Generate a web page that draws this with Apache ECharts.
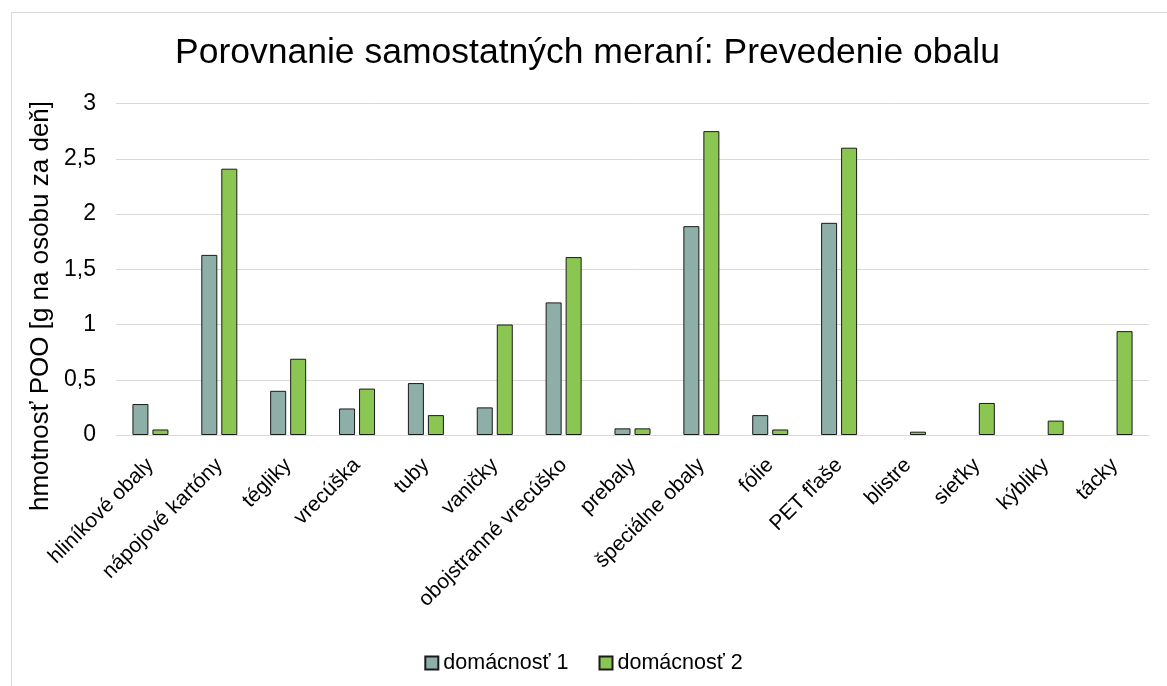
<!DOCTYPE html>
<html>
<head>
<meta charset="utf-8">
<script src="https://cdn.jsdelivr.net/npm/echarts@6/dist/echarts.min.js"></script>
<style>
html,body{margin:0;padding:0;background:#fff;}
#chart{width:1167px;height:686px;}
</style>
</head>
<body>
<div id="chart"></div>
<script>
const categories = ['hliníkové obaly','nápojové kartóny','tégliky','vrecúška','tuby','vaničky','obojstranné vrecúško','prebaly','špeciálne obaly','fólie','PET fľaše','blistre','sieťky','kýbliky','tácky'];
const household1 = [0.28, 1.63, 0.40, 0.24, 0.47, 0.25, 1.20, 0.06, 1.89, 0.18, 1.92, null, null, null, null];
const household2 = [0.05, 2.41, 0.69, 0.42, 0.18, 1.00, 1.61, 0.06, 2.75, 0.05, 2.60, 0.03, 0.29, 0.13, 0.94];
const seriesNames = ['domácnosť 1','domácnosť 2'];
const titleText = 'Porovnanie samostatných meraní: Prevedenie obalu';
const yAxisTitle = 'hmotnosť POO [g na osobu za deň]';

const FONT = '"Liberation Sans", Arial, sans-serif';
const chart = echarts.init(document.getElementById('chart'), null, {renderer:'canvas'});
chart.setOption({
  animation:false,
  backgroundColor:'#ffffff',
  textStyle:{fontFamily:FONT},
  title:{
    text:titleText,
    left:170,
    top:30,
    textStyle:{fontFamily:FONT,fontSize:35.5,fontWeight:'normal',color:'#000'}
  },
  graphic:[
    {type:'rect',left:9,top:10,shape:{width:1180,height:700},style:{fill:'none',stroke:'#d9d9d9',lineWidth:1},silent:true,z:-1},
    {type:'text',x:41,y:306,rotation:Math.PI/2,
     style:{text:yAxisTitle,font:'26px "Liberation Sans", Arial, sans-serif',fill:'#000',textAlign:'center',textVerticalAlign:'middle'}}
  ],
  legend:{
    data:seriesNames,
    top:647,
    left:'center',
    itemWidth:13,
    itemHeight:13,
    itemGap:30,
    icon:'rect',
    textStyle:{fontFamily:FONT,fontSize:21.5,color:'#000',padding:[0,0,0,0]}
  },
  grid:{left:116,right:18,top:103.5,bottom:251,containLabel:false},
  xAxis:{
    type:'category',
    data:categories,
    axisLine:{lineStyle:{color:'#d9d9d9',width:1}},
    axisTick:{show:false},
    axisLabel:{rotate:45,fontFamily:FONT,fontSize:21,color:'#000',margin:27,interval:0}
  },
  yAxis:{
    type:'value',
    min:0,max:3,interval:0.5,
    axisLine:{show:false},
    axisTick:{show:false},
    splitLine:{lineStyle:{color:'#d9d9d9',width:1}},
    axisLabel:{fontFamily:FONT,fontSize:23,color:'#000',margin:20,
      formatter:v=>String(v).replace('.',',')}
  },
  series:[
    {name:seriesNames[0],type:'bar',data:household1,barWidth:16,barGap:'25%',
     itemStyle:{color:'#8DAFA8',borderColor:'#1a1a1a',borderWidth:1}},
    {name:seriesNames[1],type:'bar',data:household2,barWidth:16,barGap:'25%',
     itemStyle:{color:'#8BC652',borderColor:'#1a1a1a',borderWidth:1}}
  ]
});
</script>
</body>
</html>
